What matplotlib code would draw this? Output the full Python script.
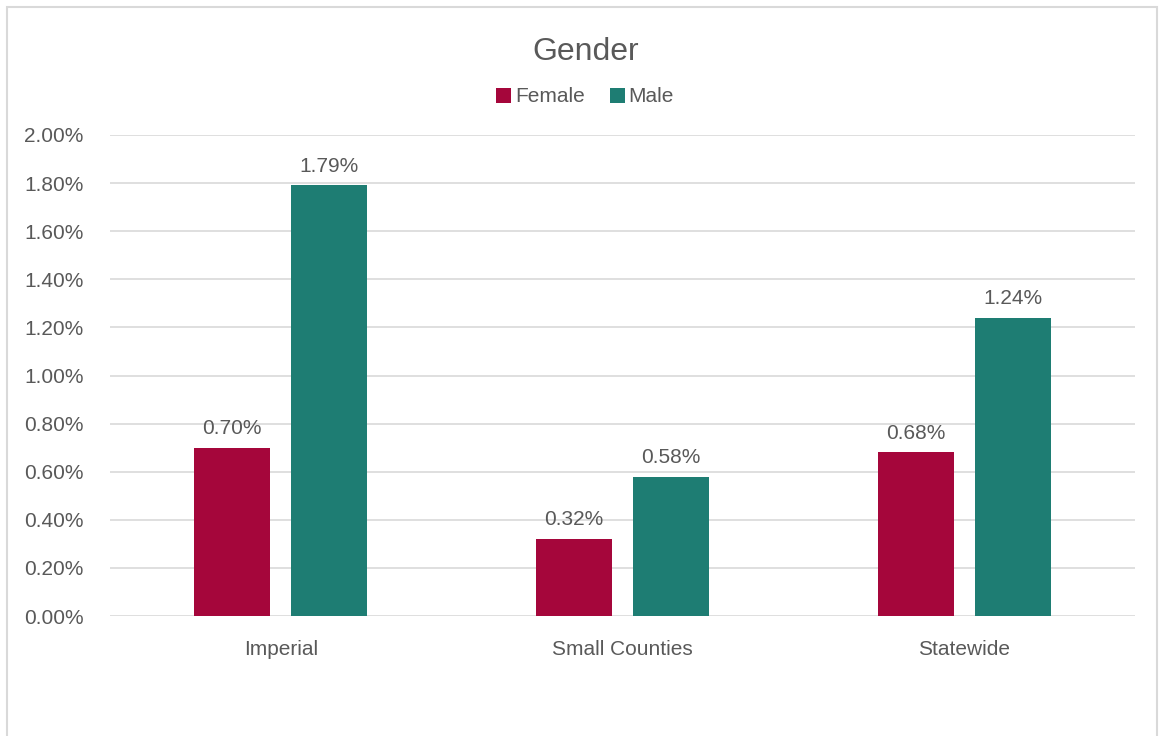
import numpy as np
import matplotlib.pyplot as plt
from matplotlib.patches import Rectangle
from matplotlib.ticker import FuncFormatter

categories = ['Imperial', 'Small Counties', 'Statewide']
female = [0.70, 0.32, 0.68]
male = [1.79, 0.58, 1.24]

plt.rcParams['font.family'] = ['Liberation Sans', 'DejaVu Sans']
text_color = '#595959'
female_color = '#A5063B'
male_color = '#1E7D73'

fig = plt.figure(figsize=(11.59, 7.36), dpi=100)
ax = fig.add_axes([0.0949, 0.163, 0.9793 - 0.0949, 0.8166 - 0.163])

# chart border
fig.patches.append(Rectangle((7 / 1159, -0.05), 1150 / 1159, 1.05 - 7 / 736,
                             transform=fig.transFigure, fill=False,
                             edgecolor='#D9D9D9', linewidth=1.5))

x = np.arange(len(categories))
w = 0.222
off = 0.142
b1 = ax.bar(x - off, female, w, color=female_color, label='Female')
b2 = ax.bar(x + off, male, w, color=male_color, label='Male')

for bars, vals in ((b1, female), (b2, male)):
    for r, v in zip(bars, vals):
        ax.annotate(f'{v:.2f}%', (r.get_x() + r.get_width() / 2, v),
                    xytext=(0, 7), textcoords='offset points',
                    ha='center', va='bottom', fontsize=15, color=text_color)

ax.set_xlim(-0.5, 2.5)
ax.set_ylim(0, 2.0)
ax.set_yticks(np.arange(0, 2.01, 0.2))
ax.yaxis.set_major_formatter(FuncFormatter(lambda v, p: f'{v:.2f}%'))
ax.set_xticks(x)
ax.set_xticklabels(categories)
ax.tick_params(axis='both', length=0, labelsize=15, labelcolor=text_color)
ax.tick_params(axis='x', pad=17)
ax.tick_params(axis='y', pad=19)
ax.grid(axis='y', color='#D9D9D9', linewidth=1.2)
ax.set_axisbelow(True)
for s in ax.spines.values():
    s.set_visible(False)

fig.text(0.505, 1 - 52 / 736, 'Gender', ha='center', va='center',
         fontsize=23, color=text_color)
fig.legend(loc='center', bbox_to_anchor=(0.505, 1 - 97 / 736), ncol=2,
           frameon=False, fontsize=15, labelcolor=text_color,
           handlelength=0.7, handleheight=0.7, handletextpad=0.2,
           columnspacing=1.2)

fig.savefig('out.png', dpi=100)
